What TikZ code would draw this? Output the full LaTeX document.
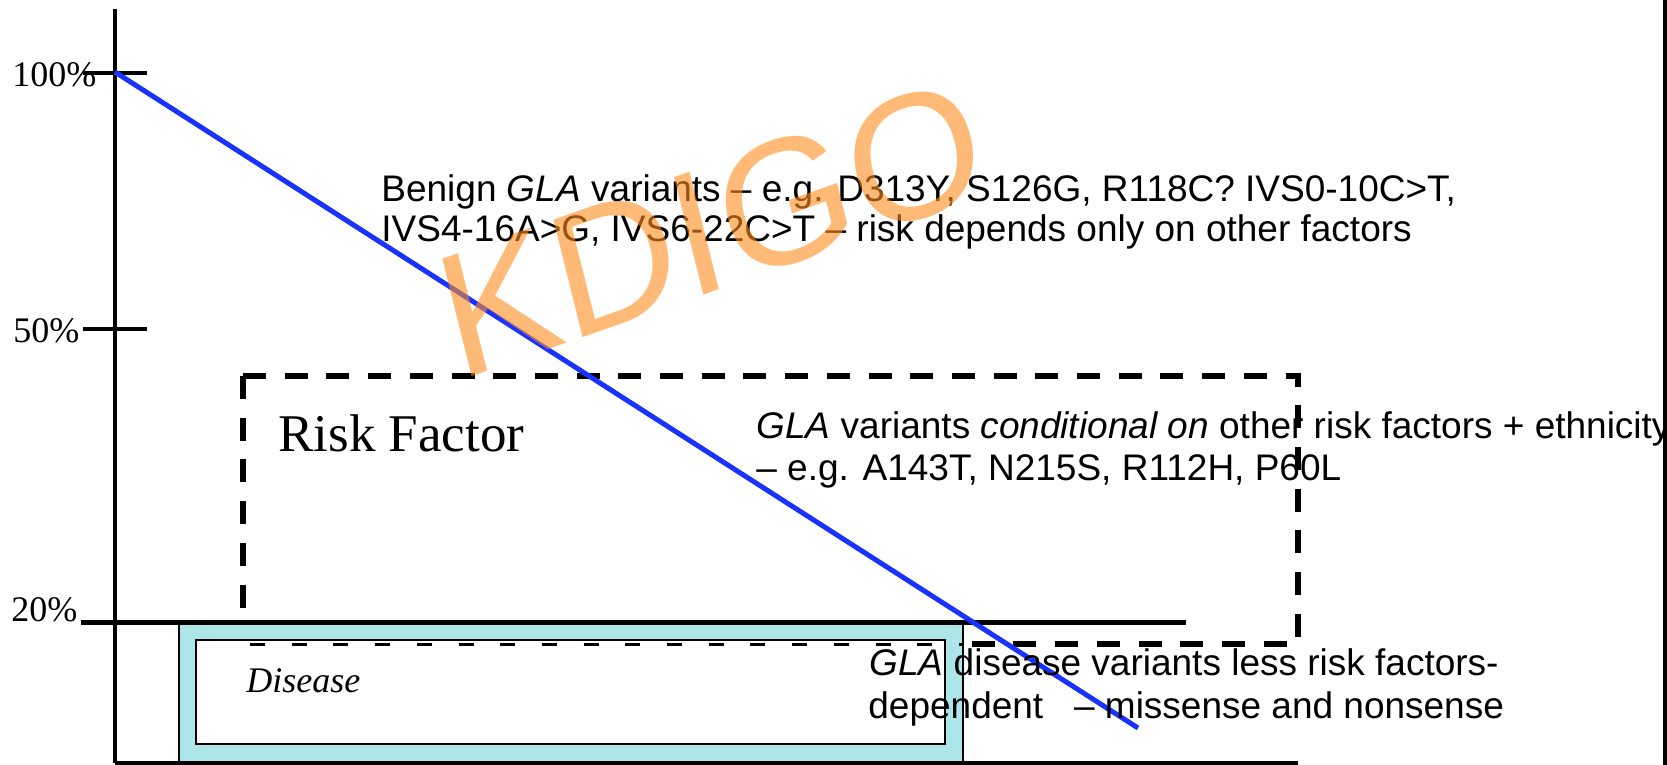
\documentclass[tikz,border=0pt]{standalone}
\usepackage{fontspec}
\setmainfont{Liberation Serif}
\newfontfamily\arialf[Ligatures=TeX]{Liberation Sans}
\definecolor{boxcyan}{RGB}{172,230,232}
\definecolor{lineblue}{RGB}{25,50,255}
\definecolor{wmorange}{RGB}{255,140,30}
\begin{document}
\begin{tikzpicture}[x=0.5pt,y=-0.5pt,
  axisline/.style={line width=2pt,black},
  rfdash/.style={line width=3pt,black,dash pattern=on 11.5pt off 9.35pt},
  rfthin/.style={line width=1.5pt,black,dash pattern=on 7.5pt off 13.35pt},
  pctlabel/.style={font=\fontsize{18}{20}\selectfont,anchor=base west,inner sep=0pt},
  sanstext/.style={font=\arialf\fontsize{18.5}{21}\selectfont,anchor=base west,inner sep=0pt},
  trend/.style={line width=2.5pt,lineblue},
  watermark/.style={font=\arialf\fontsize{88}{91}\selectfont,text=wmorange,text opacity=0.6,anchor=base west,inner sep=0pt,cm={0.943,0.334,-0.242,0.970,(0,0)}}]
\useasboundingbox (0,0) rectangle (1667,765);
% key points
\coordinate (ytop) at (115,9);
\coordinate (orig) at (115,763);
\coordinate (xend) at (1298,763);
\coordinate (t100a) at (83,72.7);
\coordinate (t100b) at (147,72.7);
\coordinate (t50a) at (83,329);
\coordinate (t50b) at (147,329);
\coordinate (t20a) at (81,622);
\coordinate (t20b) at (1186,622);
\coordinate (rfbl) at (243,622);
\coordinate (rftl) at (243,376);
\coordinate (rftr) at (1298,376);
\coordinate (rfbr) at (1298,644);
\coordinate (rfbm) at (963,644);
\coordinate (rfin) at (250,644);
\coordinate (bstart) at (115,72);
\coordinate (bend) at (1138,728);
\coordinate (redgeT) at (1665,0);
\coordinate (redgeB) at (1665,765);
% risk factor dashed region
\draw[rfdash] (rftl) -- (rftr) -- (rfbr) -- (rfbm);
\draw[rfdash] (rftl) -- (rfbl);
% disease boxes
\draw[line width=0.8pt,fill=boxcyan] (179,622) rectangle (963,763);
\draw[line width=1pt,fill=white] (196,640) rectangle (945,744);
\draw[rfthin] (rfin) -- (rfbm);
% axes and ticks
\draw[axisline] (ytop) -- (orig);
\draw[line width=1.6pt] (orig) -- (xend);
\draw[axisline] (t100a) -- (t100b);
\draw[axisline] (t50a) -- (t50b);
\draw[line width=2.5pt] (t20a) -- (t20b);
% trend line
\draw[trend] (bstart) -- (bend);
% labels
\node[pctlabel] (l100) at (12,87) {100\%};
\node[pctlabel] (l50) at (13,343) {50\%};
\node[pctlabel] (l20) at (11,621) {20\%};
\node[font=\fontsize{26.5}{30}\selectfont,anchor=base west,inner sep=0pt] (rflabel) at (278,451) {Risk Factor};
\node[font=\itshape\fontsize{18}{20}\selectfont,anchor=base west,inner sep=0pt] (dislabel) at (246,692) {Disease};
\node[sanstext] (ben1) at (381,202) {Benign \textit{GLA} variants – e.g. D313Y, S126G, R118C? IVS0-10C>T,};
\node[sanstext] (ben2) at (381,242) {IVS4-16A>G, IVS6-22C>T – risk depends only on other factors};
\node[sanstext] (con1) at (756,438) {\textit{GLA} variants \textit{conditional on} other risk factors + ethnicity};
\node[sanstext] (con2) at (756,480) {– e.g. A143T, N215S, R112H, P60L};
\node[sanstext] (dis1) at (869,675) {\textit{GLA} disease variants less risk factors-};
\node[sanstext] (dis2) at (868,718) {dependent\ \ \ – missense and nonsense};
% watermark
\node[watermark] (wm) at (458,382) {KDIGO};
% right edge bar
\draw[line width=2pt] (redgeT) -- (redgeB);
\end{tikzpicture}
\end{document}
